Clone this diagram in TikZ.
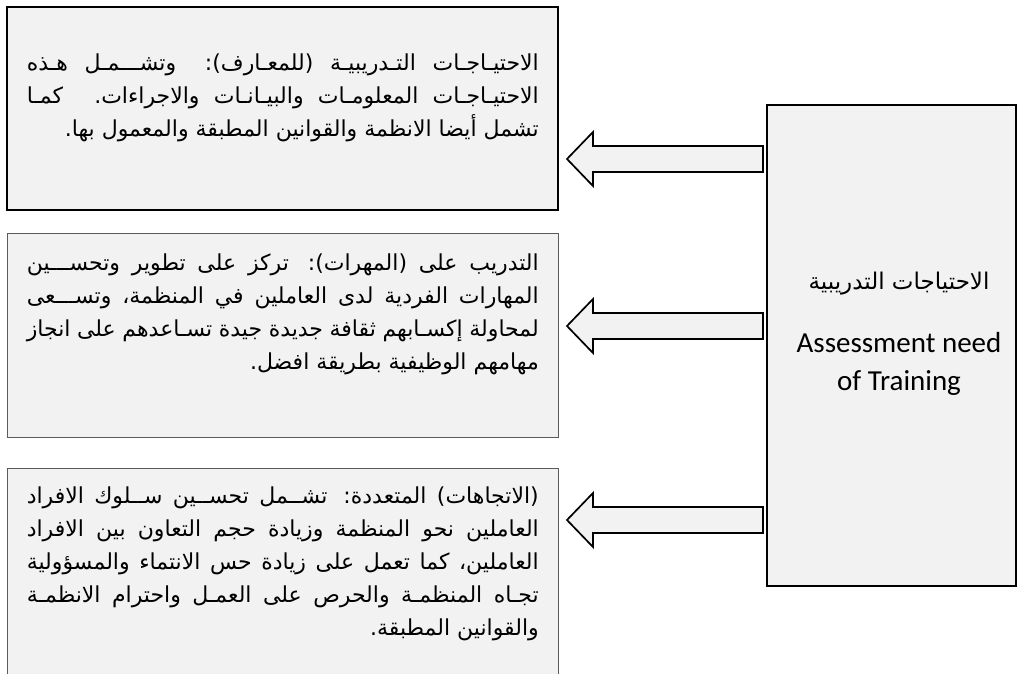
\documentclass[tikz,border=0pt]{standalone}
\usepackage{fontspec}
\setmainfont{Carlito}
\newfontfamily\arabicfont[Script=Arabic]{DejaVu Sans}
\TeXXeTstate=1
\usetikzlibrary{calc}
\definecolor{boxfill}{HTML}{F2F2F2}
\definecolor{boxline}{HTML}{5A5A5A}
\newlength\colw
\setlength\colw{512pt}
\newcommand\jline[1]{\makebox[\colw][s]{\beginR #1\endR}}
\newcommand\lline[1]{\makebox[\colw][r]{\beginR #1\endR}}
\tikzset{
  panel/.style={draw=black, line width=1.5pt, fill=boxfill, rectangle, inner sep=0pt, outer sep=0pt, anchor=north west},
  softpanel/.style={panel, draw=boxline, line width=1pt},
  artext/.style={inner sep=0pt, anchor=north east, align=right, font=\arabicfont\fontsize{22}{33}\selectfont},
  blockarr/.style={draw=black, line width=1.7pt, fill=boxfill, line join=miter},
}
\newcommand\blockarrow[2]{% #1 tail, #2 tip
  \draw[blockarr] (#2) -- ($(#2)+(26,-27)$) -- ($(#2)+(26,-13)$) -- ($(#1)+(0,-13)$) -- ($(#1)+(0,13)$) -- ($(#2)+(26,13)$) -- ($(#2)+(26,27)$) -- cycle;}
\begin{document}
\begin{tikzpicture}[x=1pt,y=-1pt]
\useasboundingbox (0,0) rectangle (1020,673);
\fill[white] (0,0) rectangle (1020,673);
% panels
\node[panel, minimum width=551pt, minimum height=203pt] (know) at (7,7) {};
\node[softpanel, minimum width=551pt, minimum height=204pt] (skill) at (7,233) {};
\node[softpanel, minimum width=551pt, minimum height=230pt] (attit) at (7,468) {};
\node[panel, minimum width=249pt, minimum height=481pt] (need) at (767,105) {};
% texts
\node[artext] (knowtext) at (539,54) {%
\jline{الاحتيـاجـات التـدريبيـة (للمعـارف): وتشـــمـل هـذه}\\
\jline{الاحتيـاجـات المعلومـات والبيـانـات والاجراءات. كمـا}\\
\lline{تشمل أيضا الانظمة والقوانين المطبقة والمعمول بها.}};
\node[artext] (skilltext) at (539,254) {%
\jline{التدريب على (المهرات): تركز على تطوير وتحســـين}\\
\jline{المهارات الفردية لدى العاملين في المنظمة، وتســـعى}\\
\jline{لمحاولة إكسـابهم ثقافة جديدة جيدة تسـاعدهم على انجاز}\\
\lline{مهامهم الوظيفية بطريقة افضل.}};
\node[artext] (attittext) at (539,487) {%
\jline{(الاتجاهات) المتعددة: تشــمل تحســين ســلوك الافراد}\\
\jline{العاملين نحو المنظمة وزيادة حجم التعاون بين الافراد}\\
\jline{العاملين، كما تعمل على زيادة حس الانتماء والمسؤولية}\\
\jline{تجـاه المنظمـة والحرص على العمـل واحترام الانظمـة}\\
\lline{والقوانين المطبقة.}};
\node[inner sep=0pt, font=\arabicfont\fontsize{23}{27}\selectfont] (needar) at (899,284) {\beginR الاحتياجات التدريبية\endR};
\node[inner sep=0pt, align=center, font=\fontsize{29}{38}\selectfont] (needen) at (899,364) {Assessment need\\of Training};
% arrows
\coordinate (k1) at ($(know.east|-0,159)+(9,0)$);
\coordinate (k2) at ($(need.west|-0,159)+(-4,0)$);
\coordinate (s1) at ($(skill.east|-0,326)+(9,0)$);
\coordinate (s2) at ($(need.west|-0,326)+(-4,0)$);
\coordinate (a1) at ($(attit.east|-0,520)+(9,0)$);
\coordinate (a2) at ($(need.west|-0,520)+(-4,0)$);
\blockarrow{k2}{k1}
\blockarrow{s2}{s1}
\blockarrow{a2}{a1}
\end{tikzpicture}
\end{document}
